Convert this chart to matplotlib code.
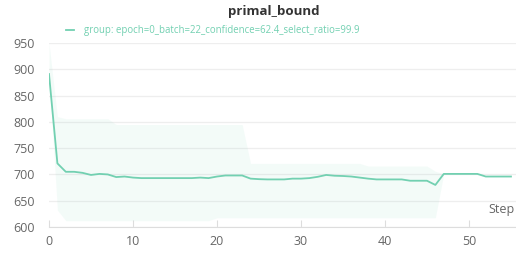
import numpy as np
import matplotlib
matplotlib.use("Agg")
import matplotlib.pyplot as plt

# values
steps = list(range(56))
primal_bound = [891, 721, 705, 705, 703, 699, 701, 700, 695, 696,
                694, 693, 693, 693, 693, 693, 693, 693, 694, 693,
                696, 698, 698, 698, 692, 691, 690.5, 690.5, 690.5, 692,
                692, 693, 695.5, 699, 697.5, 697, 696, 694, 692, 690.5,
                690.5, 690.5, 690.5, 688, 688, 688, 680, 701, 701, 701,
                701, 701, 696, 696, 696, 696]

# min / max band over the group (steps 0..47)
band_steps = list(range(48))
band_hi = [950, 810, 806, 806, 806, 806, 806, 806, 795, 795,
           795, 795, 795, 795, 795, 795, 795, 795, 795, 795,
           795, 795, 795, 795, 721, 721, 721, 721, 721, 721,
           721, 721, 721, 721, 721, 721, 721, 721, 716, 716,
           716, 716, 716, 716, 716, 716, 706, 701]
band_lo = [891, 632, 612, 612, 612, 612, 612, 612, 612, 612,
           612, 612, 612, 612, 612, 612, 612, 612, 612, 612,
           617.5, 617.5, 617.5, 617.5, 617.5, 617.5, 617.5, 617.5, 617.5, 617.5,
           617.5, 617.5, 617.5, 617.5, 617.5, 617.5, 617.5, 617.5, 617.5, 617.5,
           617.5, 617.5, 617.5, 617.5, 617.5, 617.5, 617.5, 701]

label = "group: epoch=0_batch=22_confidence=62.4_select_ratio=99.9"
line_color = "#72d0b1"

plt.rcParams['font.family'] = ['Open Sans', 'DejaVu Sans']

fig = plt.figure(figsize=(5.16, 2.54), dpi=100)
ax = fig.add_axes([49 / 516, 27 / 254, 467 / 516, 184 / 254])

ax.fill_between(band_steps, band_lo, band_hi, color=line_color, alpha=0.08, lw=0)
ax.plot(steps, primal_bound, color=line_color, lw=1.3, label=label)

ax.set_xlim(0, 55.6)
ax.set_ylim(600, 950)
ax.set_xticks(np.arange(0, 60, 10))
ax.set_yticks(np.arange(600, 951, 50))

for s in ['top', 'right', 'left']:
    ax.spines[s].set_visible(False)
ax.spines['bottom'].set_color('#dddddd')
ax.yaxis.grid(True, color='#eeeeee', lw=0.9)
ax.set_axisbelow(True)
ax.tick_params(axis='y', length=0, pad=10, labelsize=9, labelcolor='#666666')
ax.tick_params(axis='x', direction='in', length=5, color='#dddddd',
               labelsize=9, labelcolor='#666666', pad=6)

ax.text(0.997, 0.06, "Step", transform=ax.transAxes, ha='right', va='bottom',
        fontsize=9, color='#666666')

fig.text(274 / 516, 1 - 12 / 254, "primal_bound", ha='center', va='center',
         fontsize=9.5, fontweight='bold', color='#333333')
fig.legend(loc='center left', bbox_to_anchor=(62 / 516, 1 - 31 / 254),
           frameon=False, fontsize=6.9, labelcolor=line_color,
           handlelength=0.9, handletextpad=1.0, borderaxespad=0)

fig.savefig("out.png", dpi=100)
